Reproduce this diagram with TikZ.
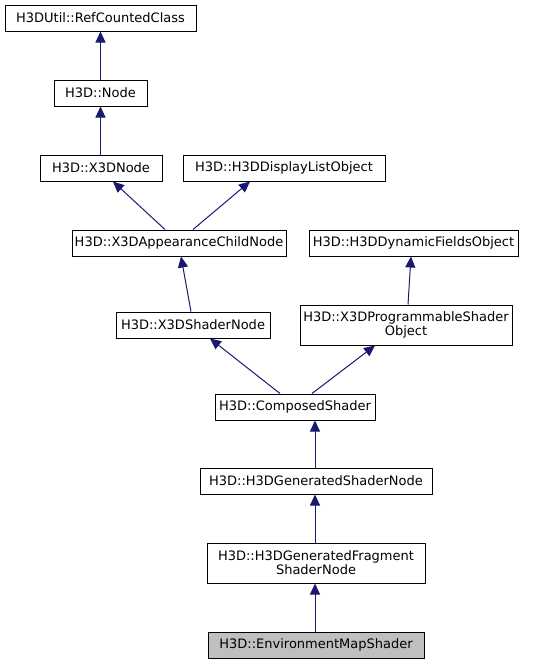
\documentclass[tikz,border=0pt]{standalone}
\usepackage{fontspec}
\setmainfont{DejaVu Sans}
\usetikzlibrary{arrows.meta}
\definecolor{edgeblue}{HTML}{191970}
\definecolor{hlgray}{HTML}{BFBFBF}
\begin{document}
\begin{tikzpicture}[x=1pt,y=-1pt,
  box/.style={draw=black, line width=1pt, fill=white, inner sep=0pt, minimum height=26pt,
    align=center, font=\fontsize{13}{14}\selectfont},
  tall/.style={minimum height=40pt},
  inh/.style={draw=edgeblue, line width=1pt, -{Triangle[length=11pt,width=10pt]}}]
\useasboundingbox (0,0) rectangle (559,664);
\node[box, minimum width=191pt] (rcc)  at (100.5,18) {H3DUtil::RefCountedClass};
\node[box, minimum width=93pt]  (node) at (100.5,93) {H3D::Node};
\node[box, minimum width=122pt] (x3d)  at (101,168) {H3D::X3DNode};
\node[box, minimum width=202pt] (dlo)  at (284,168) {H3D::H3DDisplayListObject};
\node[box, minimum width=214pt] (appc) at (179,243) {H3D::X3DAppearanceChildNode};
\node[box, minimum width=209pt] (dyn)  at (413.5,243) {H3D::H3DDynamicFieldsObject};
\node[box, minimum width=154pt] (shn)  at (193,325) {H3D::X3DShaderNode};
\node[box, tall, minimum width=212pt] (prog) at (406,325) {H3D::X3DProgrammableShader\\Object};
\node[box, minimum width=160pt] (comp) at (295,407) {H3D::ComposedShader};
\node[box, minimum width=232pt] (gen)  at (316,481) {H3D::H3DGeneratedShaderNode};
\node[box, tall, minimum width=218pt] (frag) at (316,563) {H3D::H3DGeneratedFragment\\ShaderNode};
\node[box, fill=hlgray, minimum width=216pt] (env) at (316,645) {H3D::EnvironmentMapShader};

\draw[inh] (node.north) -- (rcc.south);
\draw[inh] ([xshift=-0.5pt]x3d.north) -- (node.south);
\draw[inh] ([xshift=-14pt]appc.north) -- ([xshift=12pt]x3d.south);
\draw[inh] ([xshift=14pt]appc.north) -- ([xshift=-34pt]dlo.south);
\draw[inh] ([xshift=-2pt]shn.north) -- ([xshift=2pt]appc.south);
\draw[inh] ([xshift=2pt]prog.north) -- ([xshift=-2.5pt]dyn.south);
\draw[inh] ([xshift=-15pt]comp.north) -- ([xshift=17pt]shn.south);
\draw[inh] ([xshift=17pt]comp.north) -- ([xshift=-31pt]prog.south);
\draw[inh] ([xshift=-1pt]gen.north) -- ([xshift=20pt]comp.south);
\draw[inh] ([xshift=-1pt]frag.north) -- ([xshift=-1pt]gen.south);
\draw[inh] ([xshift=-1pt]env.north) -- ([xshift=-1pt]frag.south);
\end{tikzpicture}
\end{document}
